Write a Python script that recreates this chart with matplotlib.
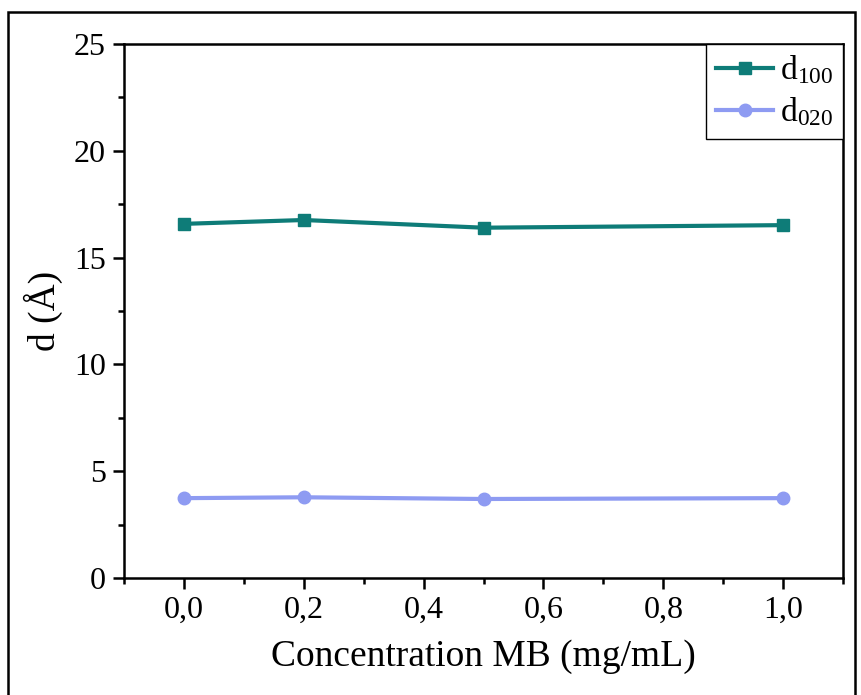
import numpy as np
import matplotlib as mpl
mpl.use('Agg')
import matplotlib.pyplot as plt
from matplotlib.patches import Rectangle
from matplotlib.ticker import MultipleLocator, FuncFormatter

# Global Setting
plt.rcParams['font.family'] = ['Liberation Serif', 'DejaVu Serif']
plt.rcParams['mathtext.fontset'] = 'stix'
plt.rcParams['font.size'] = 21

## Data
conc = [0.0, 0.2, 0.5, 1.0]
d100 = [16.58, 16.76, 16.40, 16.52]
d020 = [3.74, 3.78, 3.70, 3.74]

teal = '#0E7C78'
lavender = '#8E9BF2'

## Plot Statement
fig = plt.figure(figsize=(8.62, 6.95), dpi=100)
ax = fig.add_axes([0.1439, 0.1683, 0.8341, 0.7684])

ax.plot(conc, d100, color=teal, lw=3, marker='s', ms=9, label=r'd$_{\mathregular{100}}$')
ax.plot(conc, d020, color=lavender, lw=3, marker='o', ms=9, label=r'd$_{\mathregular{020}}$')

ax.set_xlim(-0.1, 1.1)
ax.set_ylim(0, 25)
ax.xaxis.set_major_locator(MultipleLocator(0.2))
ax.xaxis.set_minor_locator(MultipleLocator(0.1))
ax.yaxis.set_major_locator(MultipleLocator(5))
ax.yaxis.set_minor_locator(MultipleLocator(2.5))
ax.xaxis.set_major_formatter(FuncFormatter(lambda v, p: f'{v:.1f}'.replace('.', ',').replace('-0,0', '0,0')))

ax.tick_params(which='major', direction='out', length=8, width=1.8, labelsize=23, pad=5)
ax.tick_params(which='minor', direction='out', length=4.5, width=1.8)
for s in ax.spines.values():
    s.set_linewidth(1.8)

ax.set_xlabel('Concentration MB (mg/mL)', fontsize=27, labelpad=10)
ax.set_ylabel('d (Å)', fontsize=27, labelpad=8)

leg = ax.legend(loc='upper right', borderaxespad=0, fancybox=False, edgecolor='black',
                framealpha=1, fontsize=24, handlelength=1.7, handletextpad=0.2,
                labelspacing=0.3, borderpad=0.3)
leg.get_frame().set_linewidth(1.0)

# outer frame around figure
fig.patches.append(Rectangle((0.0093, -0.01), 0.983, 0.993, transform=fig.transFigure,
                             fill=False, edgecolor='black', lw=1.8))

fig.savefig('out.png', dpi=100)
